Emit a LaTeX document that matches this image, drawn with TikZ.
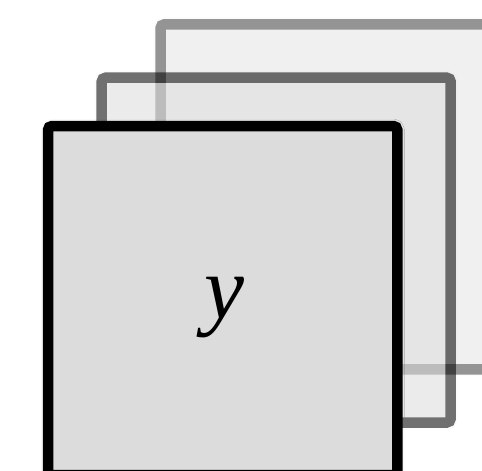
\documentclass[tikz,border=0pt]{standalone}
\usepackage{fontspec}
\setmainfont{Liberation Serif}
\usetikzlibrary{shadows.blur}
\tikzset{
  card/.style={line width=10.5pt, draw=black, fill=cardgray, rounded corners=4pt,
    blur shadow={shadow xshift=0pt, shadow yshift=0pt, shadow blur radius=7pt, shadow opacity=35}},
}
\definecolor{cardgray}{HTML}{DCDCDC}
\begin{document}
\begin{tikzpicture}[x=1pt,y=-1pt]
\useasboundingbox (0,0) rectangle (482,471);
\clip (0,0) rectangle (482,471);
\begin{scope}[transparency group, opacity=0.42]
  \path[card] (160.5,24.3) rectangle (505.5,369.3);
\end{scope}
\begin{scope}[transparency group, opacity=0.56]
  \path[card] (101.7,77.7) rectangle (450.7,422.5);
\end{scope}
\path[card] (48,126) rectangle (397.3,475);
\node[anchor=base, inner sep=0pt, font=\fontsize{90}{90}\selectfont\itshape] (lbl) at (224,318) {y};
\end{tikzpicture}
\end{document}
